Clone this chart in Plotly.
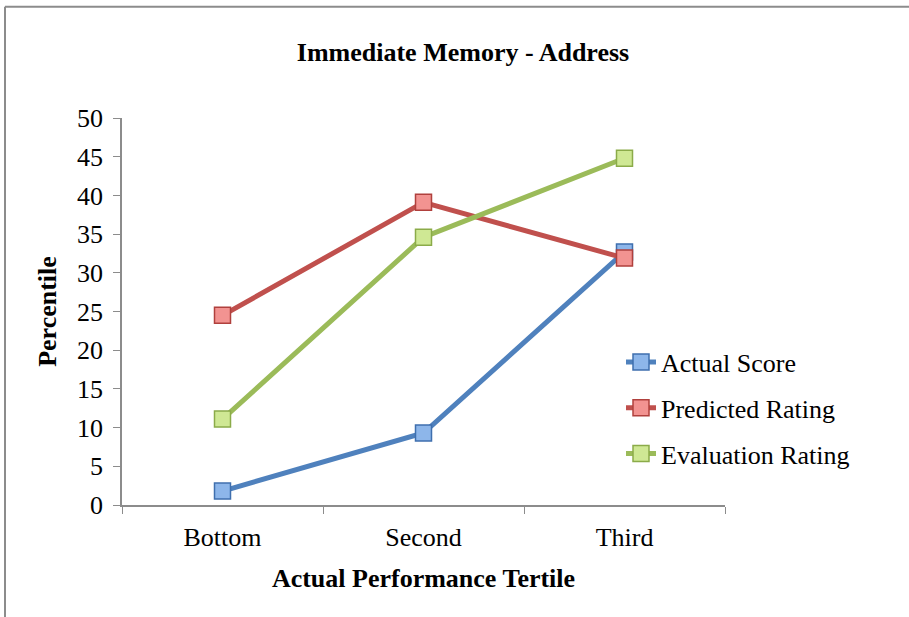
import plotly.graph_objects as go

categories = ["Bottom", "Second", "Third"]
actual_score = [1.8, 9.3, 32.7]
predicted_rating = [24.5, 39.1, 31.9]
evaluation_rating = [11.1, 34.6, 44.8]
y_ticks = [0, 5, 10, 15, 20, 25, 30, 35, 40, 45, 50]

series = [
    ("Actual Score", actual_score, "#4F81BD", "#8DB6EA", "#3F6FAE"),
    ("Predicted Rating", predicted_rating, "#C0504D", "#F29391", "#B0403D"),
    ("Evaluation Rating", evaluation_rating, "#9BBB59", "#CFE894", "#8BAB49"),
]

FONT = "Liberation Serif, Times New Roman, serif"
FS = 26

fig = go.Figure()
for i, (name, vals, lc, mfill, mline) in enumerate(series):
    fig.add_trace(go.Scatter(
        x=categories, y=vals, name=name, mode="lines+markers",
        legendgroup=f"g{i}",
        line=dict(color=lc, width=5),
        marker=dict(symbol="square", size=16, color=mfill,
                    line=dict(color=mline, width=1.5)),
    ))

fig.update_layout(
    width=909, height=617,
    paper_bgcolor="white", plot_bgcolor="white",
    margin=dict(l=122, r=184, t=118, b=112),
    font=dict(family=FONT, color="black"),
    title=dict(text="<b>Immediate Memory - Address</b>", x=463/909, xanchor="center",
               y=1 - 52/617, yanchor="middle", font=dict(size=FS, family=FONT)),
    xaxis=dict(
        type="category", tickson="boundaries", ticks="outside", ticklen=7,
        tickcolor="#8C8C8C", showline=True, linecolor="#8C8C8C", linewidth=1.5,
        showgrid=False, tickfont=dict(size=FS, family=FONT),
        ticklabelstandoff=8,
        title=dict(text="<b>Actual Performance Tertile</b>", font=dict(size=FS, family=FONT),
                   standoff=18),
        range=[-0.5, 2.5],
    ),
    yaxis=dict(
        range=[0, 50], tickvals=y_ticks, ticks="outside", ticklen=7,
        tickcolor="#8C8C8C", showline=True, linecolor="#8C8C8C", linewidth=1.5,
        showgrid=False, zeroline=False, tickfont=dict(size=FS, family=FONT),
        ticklabelstandoff=5,
        title=dict(text="<b>Percentile</b>", font=dict(size=FS, family=FONT), standoff=13),
    ),
    legend=dict(
        x=(621 - 122) / 603, xanchor="left", y=(505 - 339) / 386, yanchor="top",
        font=dict(size=FS, family=FONT), tracegroupgap=9, bgcolor="rgba(0,0,0,0)",
    ),
    showlegend=True,
)

# outer chart border (top and left visible)
fig.add_shape(type="line", xref="paper", yref="paper",
              x0=(5 - 122) / 603, x1=(909 - 122) / 603,
              y0=(505 - 8) / 386, y1=(505 - 8) / 386,
              line=dict(color="#8C8C8C", width=2))
fig.add_shape(type="line", xref="paper", yref="paper",
              x0=(5 - 122) / 603, x1=(5 - 122) / 603,
              y0=(505 - 8) / 386, y1=(505 - 617) / 386,
              line=dict(color="#8C8C8C", width=2))

fig.write_html("out.html", config={"displayModeBar": False},
               post_script="document.body.style.margin='0';")
